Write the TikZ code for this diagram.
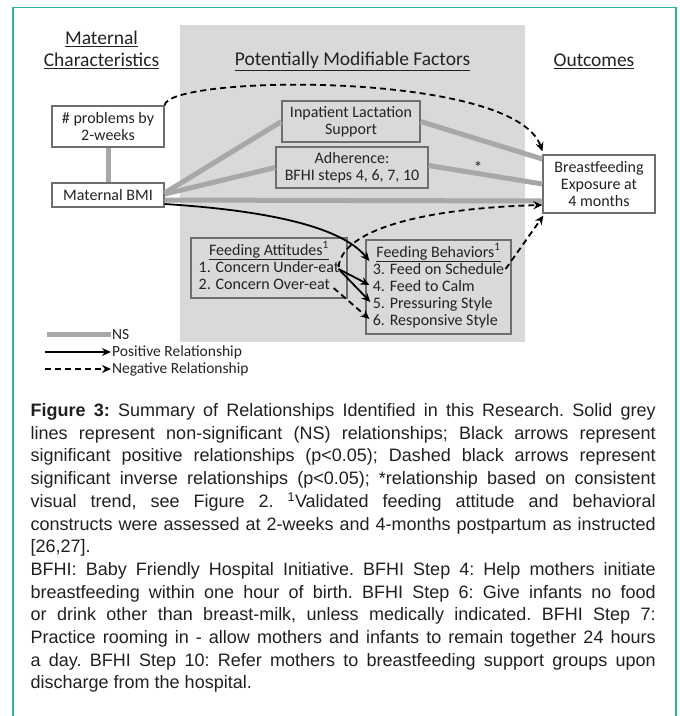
\documentclass[tikz,border=0pt]{standalone}
\usepackage{fontspec}
\setmainfont{Carlito}
\newfontfamily\arialfont{Liberation Sans}
\usetikzlibrary{arrows.meta}
\definecolor{panelgray}{RGB}{217,217,217}
\definecolor{nsgray}{RGB}{168,168,168}
\definecolor{boxline}{RGB}{110,110,110}
\definecolor{txtgray}{RGB}{35,35,35}
\definecolor{capblack}{RGB}{35,31,32}
\definecolor{frameteal}{RGB}{46,176,158}

\begin{document}
\begin{tikzpicture}[x=1pt,y=-1pt]
    \tikzstyle{rec} = [rectangle,draw=boxline,line width=1.2pt,text=txtgray,align=center,inner sep=2pt,font=\fontsize{16}{17}\selectfont]
    \tikzstyle{wrec} = [rec,fill=white]
    \tikzstyle{head} = [text=txtgray,align=center,font=\fontsize{19.5}{22}\selectfont]
    \tikzstyle{ns} = [draw=nsgray,line width=5pt]
    \tikzstyle{posarr} = [draw=black,line width=1.8pt,-{Stealth[length=9pt,width=8pt]}]
    \tikzstyle{negarr} = [posarr,dash pattern=on 6pt off 4pt]
    \tikzstyle{leg} = [text=txtgray,anchor=west,inner sep=1pt,font=\fontsize{15.5}{17}\selectfont]
    \useasboundingbox (0,0) rectangle (680,716);
    \draw[frameteal,line width=1.5pt] (13,716) -- (13,7.5) -- (676,7.5) -- (676,716);
    \node [fill=panelgray,minimum width=345,minimum height=317,inner sep=0pt] (panel) at (352.5,183.5) {};
    % column heads
    \node [head] (mat) at (101.5,50) {\underline{Maternal}\\\underline{Characteristics}};
    \node [head] (pmf) at (352.5,61) {\underline{Potentially Modifiable Factors}};
    \node [head] (outc) at (594,61) {\underline{Outcomes}};
    % boxes
    \node [wrec,minimum width=112,minimum height=41] (prob) at (108,126.5) {\# problems by\\2-weeks};
    \node [wrec,minimum width=112,minimum height=24] (bmi) at (108,195) {Maternal BMI};
    \node [rec,minimum width=138,minimum height=41] (inpat) at (351,121.5) {Inpatient Lactation\\Support};
    \node [rec,minimum width=152,minimum height=41] (adher) at (352,167.5) {Adherence:\\BFHI steps 4, 6, 7, 10};
    \node [wrec,minimum width=112,minimum height=58] (bf) at (599,184) {Breastfeeding\\Exposure at\\4 months};
    \node [rec,minimum width=156,minimum height=60] (att) at (269,268) {\begin{tabular}{@{}l@{}}\multicolumn{1}{@{}c@{}}{\underline{Feeding Attitudes\textsuperscript{1}}}\\1. Concern Under-eat\\2. Concern Over-eat\end{tabular}};
    \node [rec,minimum width=145,minimum height=94] (beh) at (438.5,287) {\begin{tabular}{@{}l@{}}\multicolumn{1}{@{}c@{}}{\underline{Feeding Behaviors\textsuperscript{1}}}\\3. Feed on Schedule\\4. Feed to Calm\\5. Pressuring Style\\6. Responsive Style\end{tabular}};
    % NS lines
    \draw [ns] (prob) -- (bmi);
    \draw [ns] ([yshift=2pt]bmi.east) -- (inpat.west);
    \draw [ns] ([yshift=1pt]bmi.east) -- (adher.west);
    \draw [ns] ([yshift=-5pt]bmi.east) -- ([yshift=-17pt]bf.west);
    \draw [ns] (inpat.east) -- ([yshift=25pt]bf.west);
    \draw [ns] ([yshift=2pt]adher.east) -- (bf.west);
    \node [text=txtgray,font=\fontsize{17}{17}\selectfont] (star) at (478,167) {*};
    % significant relationships
    \draw [negarr] (prob.north east) .. controls (166,75) and (515,70) .. ([yshift=3pt]bf.north west);
    \draw [posarr] ([yshift=-9pt]bmi.east) .. controls (260,210) and (340,225) .. ([xshift=4pt,yshift=26pt]beh.west);
    \draw [posarr] ([xshift=-9pt,yshift=-1pt]att.east) -- ([xshift=4pt,yshift=2pt]beh.west);
    \draw [posarr] ([xshift=-9pt,yshift=-1pt]att.east) -- ([xshift=5pt,yshift=-15pt]beh.west);
    \draw [negarr] ([xshift=-14pt,yshift=-20pt]att.east) -- ([xshift=4pt,yshift=-32pt]beh.west);
    \draw [negarr] ([xshift=-9pt,yshift=1pt]att.east) .. controls (342,228) and (430,208) .. ([yshift=-21pt]bf.west);
    \draw [negarr] ([xshift=-6pt,yshift=18pt]beh.east) -- ([xshift=1pt,yshift=-2pt]bf.south west);
    % legend
    \node [leg] (lns) at (111,335) {NS};
    \node [leg] (lpos) at (111,352) {Positive Relationship};
    \node [leg] (lneg) at (111,369) {Negative Relationship};
    \coordinate (ns0) at (47,334);
    \coordinate (pos0) at (45,352);
    \coordinate (neg0) at (45,369);
    \draw [ns] (ns0) -- ([yshift=1pt]lns.west);
    \draw [posarr] (pos0) -- (lpos.west);
    \draw [negarr] (neg0) -- (lneg.west);
    % caption
    \node [anchor=base west,text width=625pt,align=justify,inner sep=0pt,text=capblack,font=\arialfont\fontsize{18}{22.7}\selectfont] (cap) at (30.5,416.5) {\parindent=0pt\hyphenpenalty=10000\exhyphenpenalty=10000\frenchspacing
\textbf{Figure 3:} Summary of Relationships Identified in this Research. Solid grey\linebreak{}
lines represent non-significant (NS) relationships; Black arrows represent\linebreak{}
significant positive relationships (p<0.05); Dashed black arrows represent\linebreak{}
significant inverse relationships (p<0.05); *relationship based on consistent\linebreak{}
visual trend, see Figure 2. \textsuperscript{1}Validated feeding attitude and behavioral\linebreak{}
constructs were assessed at 2-weeks and 4-months postpartum as instructed\linebreak{}
{[}26,27].\par
BFHI: Baby Friendly Hospital Initiative. BFHI Step 4: Help mothers initiate\linebreak{}
breastfeeding within one hour of birth. BFHI Step 6: Give infants no food\linebreak{}
or drink other than breast-milk, unless medically indicated. BFHI Step 7:\linebreak{}
Practice rooming in - allow mothers and infants to remain together 24 hours\linebreak{}
a day. BFHI Step 10: Refer mothers to breastfeeding support groups upon\linebreak{}
discharge from the hospital.};
\end{tikzpicture}
\end{document}
